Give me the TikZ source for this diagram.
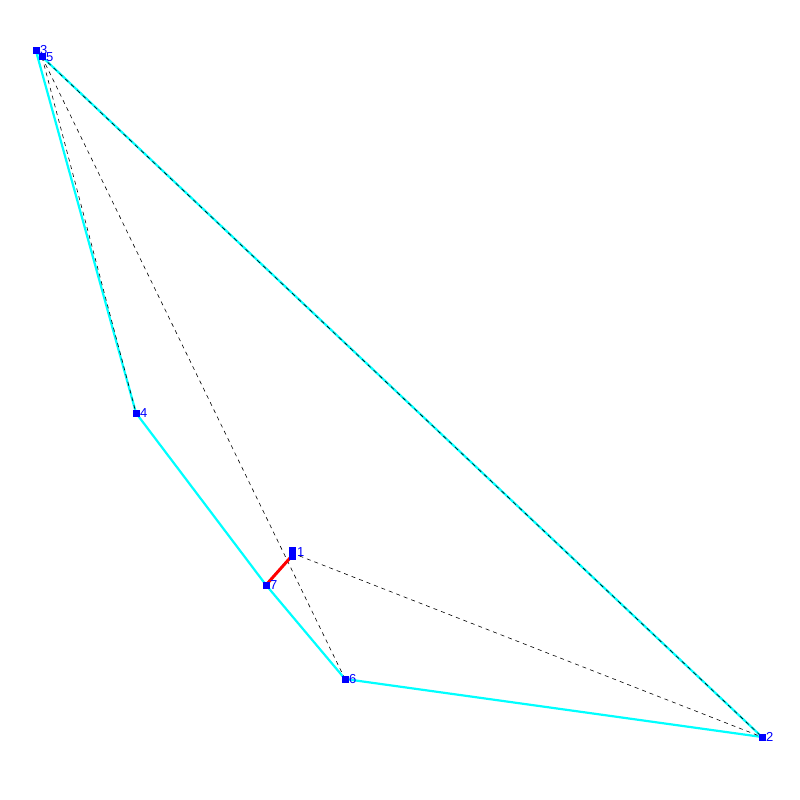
\documentclass[tikz,border=0pt]{standalone}
\usepackage{fontspec}
\setmainfont{Liberation Sans}
\definecolor{aqua}{RGB}{0,255,255}
\begin{document}
\begin{tikzpicture}[x=1pt,y=-1pt,
  pt/.style={draw=none,fill=blue,minimum width=7pt,minimum height=7pt,inner sep=0pt,outer sep=0pt},
  lab/.style={text=blue,font=\fontsize{13}{13}\selectfont,inner sep=0pt,anchor=west},
  cedge/.style={aqua,line width=2.2pt},
  dline/.style={black,line width=0.6pt,dash pattern=on 4pt off 4pt},
  redge/.style={red,line width=3pt}]
\useasboundingbox (0,0) rectangle (800,800);
\coordinate (c3) at (36,51);
\coordinate (c5) at (42,57);
\coordinate (c4) at (136,413);
\coordinate (c1) at (292,553);
\coordinate (c7) at (266,585);
\coordinate (c6) at (345,679);
\coordinate (c2) at (762,737);
\coordinate (r1) at (290,558);
% cyan edges
\draw[cedge] (c3) -- (c4);
\draw[cedge] (c3) -- (c2);
\draw[cedge] (c4) -- (c7);
\draw[cedge] (c7) -- (c6);
\draw[cedge] (c6) -- (c2);
% dashed
\draw[dline] (c5) -- (c4);
\draw[dline] (c5) -- (c2);
\draw[dline] (c5) -- (c6);
\draw[dline] (c1) -- (c2);
% red
\draw[redge] (r1) -- (c7);
% points
\node[pt] (n3) at (c3) {};
\node[pt] (n5) at (c5) {};
\node[pt] (n4) at (c4) {};
\node[pt,minimum height=13pt] (n1) at (c1) {};
\node[pt] (n7) at (c7) {};
\node[pt] (n6) at (c6) {};
\node[pt] (n2) at (c2) {};
\node[lab] at (40,50) {3};
\node[lab] at (46,57) {5};
\node[lab] at (140,413) {4};
\node[lab] at (297,552) {1};
\node[lab] at (270,585) {7};
\node[lab] at (349,679) {6};
\node[lab] at (766,737) {2};
\end{tikzpicture}
\end{document}
